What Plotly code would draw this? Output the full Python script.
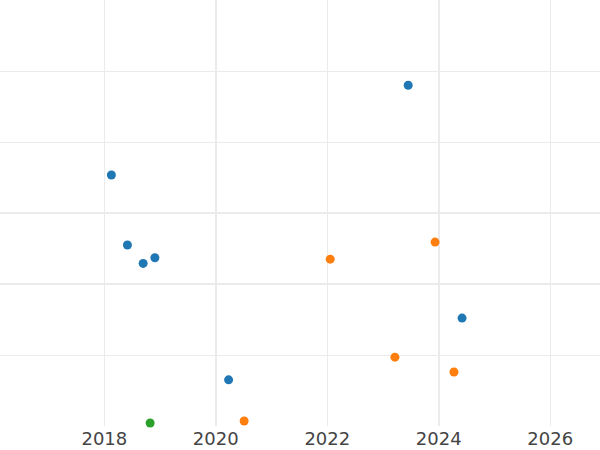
import plotly.graph_objects as go

blue_x = ["2023-06-15", "2018-02-16", "2018-06-01", "2018-09-12", "2018-11-28", "2024-06-02", "2020-03-25"]
blue_y = [48.0, 35.35, 25.5, 22.9, 23.7, 15.2, 6.5]
orange_x = ["2022-01-20", "2023-12-08", "2023-03-20", "2024-04-10", "2020-07-05"]
orange_y = [23.5, 25.9, 9.7, 7.6, 0.7]
green_x = ["2018-10-28"]
green_y = [0.42]

year_ticks = ["2018-01-01", "2020-01-01", "2022-01-01", "2024-01-01", "2026-01-01"]
year_labels = ["2018", "2020", "2022", "2024", "2026"]
bold_year_ticks = ["2020-01-01", "2024-01-01"]
y_major = [20, 30]
y_minor = [10, 40, 50]

x_range = ["2016-02-17", "2026-11-23"]
grid = "#ebebeb"

fig = go.Figure()
for xs, ys, c in [(blue_x, blue_y, "#1f77b4"), (orange_x, orange_y, "#ff7f0e"), (green_x, green_y, "#2ca02c")]:
    fig.add_trace(go.Scatter(x=xs, y=ys, mode="markers", marker=dict(size=9, color=c),
                             cliponaxis=False, showlegend=False))
fig.add_trace(go.Scatter(x=[], y=[], xaxis="x2", showlegend=False))

fig.update_layout(
    width=600, height=450,
    margin=dict(l=0, r=0, t=0, b=24),
    plot_bgcolor="white", paper_bgcolor="white",
    font=dict(family="DejaVu Sans", size=18, color="#444"),
    showlegend=False,
    xaxis=dict(type="date", range=x_range, tickmode="array", tickvals=year_ticks, ticktext=year_labels,
               showgrid=True, gridcolor=grid, gridwidth=1, zeroline=False, showline=False, ticks=""),
    xaxis2=dict(type="date", overlaying="x", range=x_range, tickmode="array", tickvals=bold_year_ticks,
                showticklabels=False, showgrid=True, gridcolor=grid, gridwidth=2, zeroline=False, ticks=""),
    yaxis=dict(range=[0, 60], tickmode="array", tickvals=y_major, showticklabels=False,
               showgrid=True, gridcolor=grid, gridwidth=2, zeroline=False, ticks="",
               minor=dict(tickmode="array", tickvals=y_minor, showgrid=True, gridcolor=grid, gridwidth=1)),
)
fig.write_html("out.html", config={"displayModeBar": False},
               post_script="document.body.style.margin='0';")
